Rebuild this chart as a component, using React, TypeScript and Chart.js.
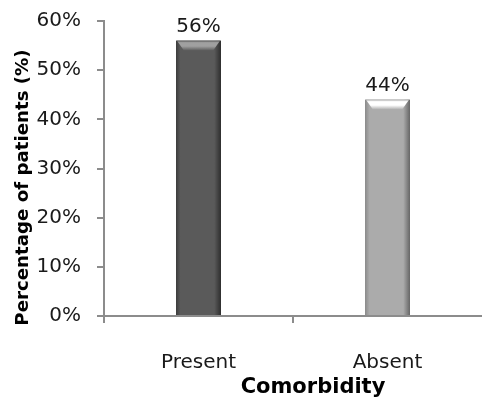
import React, { useEffect, useRef } from "react";
import { Chart, registerables } from "chart.js";

Chart.register(...registerables);

const categories = ["Present", "Absent"];
const percentages = [56, 44];
const yTicks = [0, 10, 20, 30, 40, 50, 60];
const xTitle = "Comorbidity";
const yTitle = "Percentage of patients (%)";

// per-bar shading: edge, body, top bevel highlight
const barEdgeLeft = ["#3c3c3c", "#8a8a8a"];
const barBody = ["#5a5a5a", "#ababab"];
const barEdgeRight = ["#2e2e2e", "#666666"];
const barHighlight = ["#a0a0a0", "#ffffff"];

const FONT = "'DejaVu Sans', sans-serif";
const AXIS_GRAY = "#8c8c8c";

const bevelBars = {
  id: "bevelBars",
  afterDatasetsDraw(chart: any) {
    const ctx = chart.ctx as CanvasRenderingContext2D;
    const meta = chart.getDatasetMeta(0);
    meta.data.forEach((bar: any, i: number) => {
      const { x, y, width, base } = bar.getProps(["x", "y", "width", "base"], true);
      const l = x - width / 2;
      const r = x + width / 2;
      ctx.save();
      const g = ctx.createLinearGradient(l, 0, r, 0);
      g.addColorStop(0, barEdgeLeft[i]);
      g.addColorStop(0.1, barBody[i]);
      g.addColorStop(0.5, barBody[i]);
      g.addColorStop(0.85, barBody[i]);
      g.addColorStop(1, barEdgeRight[i]);
      ctx.fillStyle = g;
      ctx.fillRect(l, y, r - l, base - y);
      // top bevel
      const bh = 10;
      const vg = ctx.createLinearGradient(0, y, 0, y + bh);
      vg.addColorStop(0, barBody[i]);
      vg.addColorStop(0.2, barHighlight[i]);
      vg.addColorStop(0.55, barHighlight[i]);
      vg.addColorStop(1, barBody[i]);
      ctx.fillStyle = vg;
      ctx.beginPath();
      ctx.moveTo(l + 1, y);
      ctx.lineTo(r - 1, y);
      ctx.lineTo(r - 8, y + bh);
      ctx.lineTo(l + 8, y + bh);
      ctx.closePath();
      ctx.fill();
      ctx.restore();
    });
  },
};

const valueLabels = {
  id: "valueLabels",
  afterDatasetsDraw(chart: any) {
    const ctx = chart.ctx as CanvasRenderingContext2D;
    const meta = chart.getDatasetMeta(0);
    ctx.save();
    ctx.font = `20px ${FONT}`;
    ctx.fillStyle = "#1a1a1a";
    ctx.textAlign = "center";
    ctx.textBaseline = "alphabetic";
    meta.data.forEach((bar: any, i: number) => {
      ctx.fillText(`${percentages[i]}%`, bar.x, bar.y - 9);
    });
    ctx.restore();
  },
};

const axisTitles = {
  id: "axisTitles",
  afterDraw(chart: any) {
    const ctx = chart.ctx as CanvasRenderingContext2D;
    const area = chart.chartArea;
    ctx.save();
    ctx.fillStyle = "#000000";
    ctx.textAlign = "center";
    ctx.textBaseline = "alphabetic";
    ctx.font = `bold 21px ${FONT}`;
    ctx.fillText(xTitle, (area.left + area.right) / 2 + 20, 393);
    ctx.translate(28, (area.top + area.bottom) / 2 + 19);
    ctx.rotate(-Math.PI / 2);
    ctx.font = `bold 18.2px ${FONT}`;
    ctx.fillText(yTitle, 0, 0);
    ctx.restore();
  },
};

export default function App() {
  const ref = useRef<HTMLCanvasElement>(null);

  useEffect(() => {
    if (!ref.current) return;
    const chart = new Chart(ref.current, {
      type: "bar",
      data: {
        labels: categories,
        datasets: [
          {
            data: percentages,
            backgroundColor: barBody,
            borderWidth: 0,
            categoryPercentage: 1,
            barPercentage: 0.238,
          },
        ],
      },
      options: {
        responsive: false,
        animation: false,
        layout: { padding: { top: 21, left: 0, right: 0, bottom: 0 } },
        plugins: {
          legend: { display: false },
          tooltip: { enabled: false },
          title: { display: false },
        },
        scales: {
          x: {
            grid: {
              display: true,
              drawOnChartArea: false,
              drawTicks: true,
              tickLength: 7,
              color: (c: any) => (c.type === "tick" ? AXIS_GRAY : "rgba(0,0,0,0)"),
              lineWidth: 2,
              offset: true,
            },
            border: { display: true, color: AXIS_GRAY, width: 2 },
            ticks: {
              font: { family: FONT, size: 20 },
              color: "#1a1a1a",
              padding: 28,
              maxRotation: 0,
            },
            afterFit(scale: any) {
              scale.height = 83;
              scale.paddingLeft = 0;
              scale.paddingRight = 0;
            },
          },
          y: {
            min: 0,
            max: 60,
            afterBuildTicks(scale: any) {
              scale.ticks = yTicks.map((v) => ({ value: v }));
            },
            grid: {
              display: true,
              drawOnChartArea: false,
              drawTicks: true,
              tickLength: 7,
              color: AXIS_GRAY,
              lineWidth: 2,
            },
            border: { display: true, color: AXIS_GRAY, width: 2 },
            ticks: {
              font: { family: FONT, size: 20 },
              color: "#1a1a1a",
              padding: 16,
              callback: (v: any) => `${v}%`,
            },
            afterFit(scale: any) {
              scale.width = 104;
              scale.paddingTop = 0;
              scale.paddingBottom = 0;
            },
          },
        },
      },
      plugins: [bevelBars, valueLabels, axisTitles],
    });
    return () => chart.destroy();
  }, []);

  return (
    <div style={{ position: "absolute", left: 0, top: 0, width: 482, height: 399, background: "#ffffff" }}>
      <canvas ref={ref} width={482} height={399} style={{ display: "block", width: 482, height: 399 }} />
    </div>
  );
}
